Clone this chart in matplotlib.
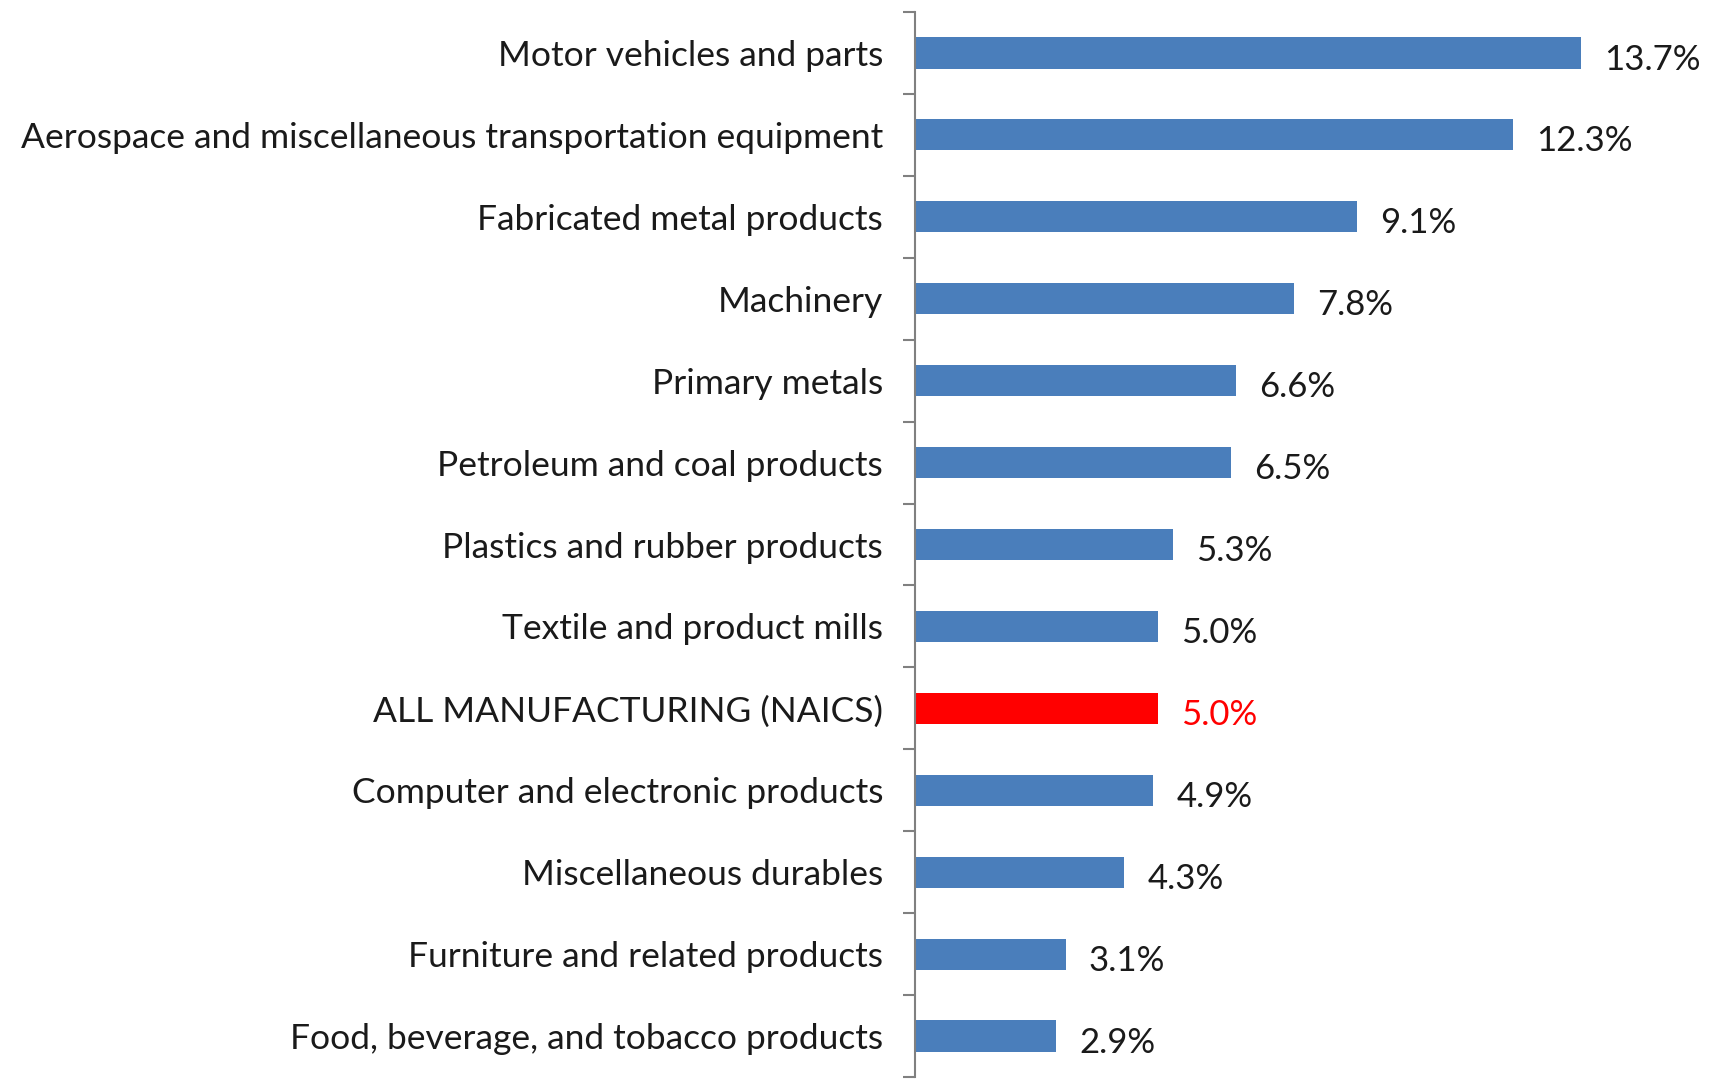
import numpy as np
import matplotlib
matplotlib.use("Agg")
import matplotlib.pyplot as plt

# Industry shares (percent), top to bottom as drawn
categories = [
    "Motor vehicles and parts",
    "Aerospace and miscellaneous transportation equipment",
    "Fabricated metal products",
    "Machinery",
    "Primary metals",
    "Petroleum and coal products",
    "Plastics and rubber products",
    "Textile and product mills",
    "ALL MANUFACTURING (NAICS)",
    "Computer and electronic products",
    "Miscellaneous durables",
    "Furniture and related products",
    "Food, beverage, and tobacco products",
]
values = [13.7, 12.3, 9.1, 7.8, 6.6, 6.5, 5.3, 5.0, 5.0, 4.9, 4.3, 3.1, 2.9]
highlight = "ALL MANUFACTURING (NAICS)"

BLUE = "#4a7ebb"
RED = "#ff0000"
TEXT = "#1a1a1a"

plt.rcParams["font.family"] = ["Lato", "DejaVu Sans"]

W, H, DPI = 1721, 1079, 100
fig = plt.figure(figsize=(W / DPI, H / DPI), dpi=DPI)
ax = fig.add_axes([915 / W, 1 - 1077 / H, (W - 915) / W, (1077 - 12) / H])

n = len(categories)
ypos = np.arange(n)
colors = [RED if c == highlight else BLUE for c in categories]
ax.barh(ypos, values, height=0.38, color=colors)

ax.set_ylim(n - 0.5, -0.5)
ax.set_xlim(0, (W - 915) / 48.6)

for y, v, c in zip(ypos, values, categories):
    col = RED if c == highlight else TEXT
    ax.text(v + 0.48, y + 0.08, f"{v:.1f}%", va="center", ha="left",
            fontsize=25, color=col)

# category labels at bar centres, tick marks at the boundaries
ax.set_yticks(ypos)
ax.set_yticklabels(categories, fontsize=25.5, color=TEXT)
ax.set_yticks(np.arange(n + 1) - 0.5, minor=True)
ax.tick_params(axis="y", which="major", length=0, pad=23)
ax.tick_params(axis="y", which="minor", length=9, width=1.5, color="#808080")
ax.set_xticks([])

for side in ("top", "right", "bottom"):
    ax.spines[side].set_visible(False)
ax.spines["left"].set_color("#808080")
ax.spines["left"].set_linewidth(1.5)

fig.savefig("out.png", dpi=DPI)
